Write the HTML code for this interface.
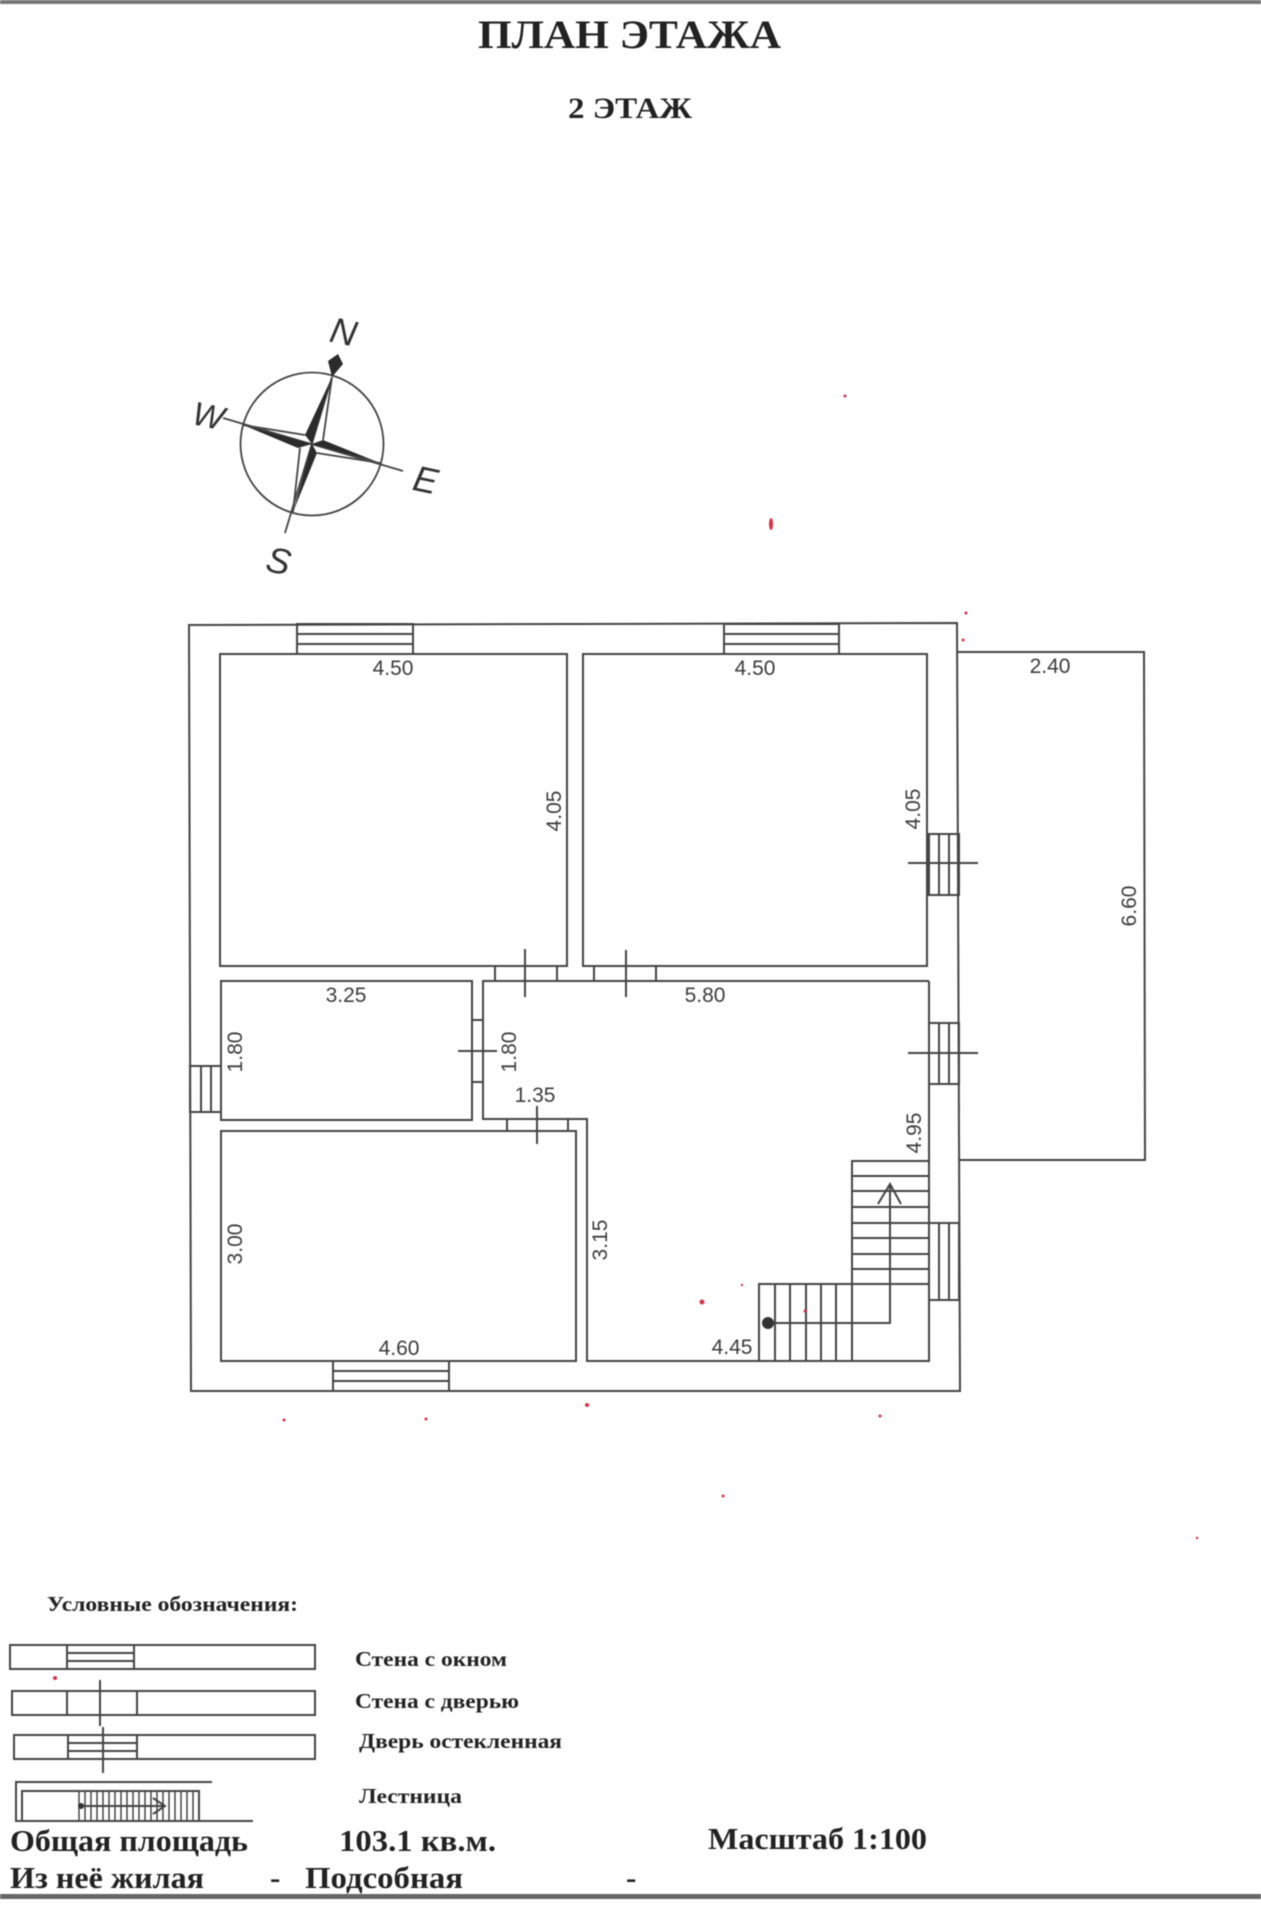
<!DOCTYPE html>
<html><head><meta charset="utf-8">
<style>
html,body{margin:0;padding:0;background:#fff;width:1261px;height:1920px;overflow:hidden}
svg{display:block;filter:blur(.45px)}
.d{font:21px "Liberation Sans",sans-serif;fill:#3d3d3d;text-anchor:middle}
.t{font-family:"Liberation Serif","Noto Serif CJK SC",serif;font-weight:bold;fill:#222}
.c{font-family:"Liberation Sans",sans-serif;font-style:italic;fill:#333;text-anchor:middle}
</style></head><body>
<svg width="1261" height="1920" viewBox="0 0 1261 1920" xmlns="http://www.w3.org/2000/svg">
<rect width="1261" height="1920" fill="#fff"/>
<!-- page rules -->
<rect x="0" y="0" width="1261" height="4" fill="#777"/>
<rect x="0" y="1894" width="1261" height="5" fill="#666"/>

<!-- titles -->
<text class="t" x="478" y="48" font-size="40" textLength="303" lengthAdjust="spacingAndGlyphs">ПЛАН ЭТАЖА</text>
<text class="t" x="568" y="118" font-size="30" textLength="124" lengthAdjust="spacingAndGlyphs">2 ЭТАЖ</text>

<!-- compass -->
<g fill="none" stroke="#444" stroke-width="1.8">
<circle cx="312" cy="444" r="71.5"/>
<line x1="332" y1="377" x2="323" y2="440"/>
<line x1="332" y1="377" x2="285" y2="533"/>
<line x1="223" y1="418" x2="403" y2="471"/>
<line x1="243" y1="425" x2="305" y2="435"/>
<line x1="380" y1="463" x2="317" y2="453"/>
<line x1="293" y1="512" x2="300" y2="448"/>
</g>
<g fill="#2b2b2b">
<polygon points="328,361 338,354 343,364 332,377"/>
<polygon points="332,377 305,435 312,444"/>
<polygon points="243,425 298,448 312,444"/>
<polygon points="380,463 323,440 312,444"/>
<polygon points="293,512 317,453 312,444"/>
</g>
<text class="c" font-size="36" transform="translate(341,344) rotate(12)">N</text>
<text class="c" font-size="33" transform="translate(206,427) rotate(12)">W</text>
<text class="c" font-size="36" transform="translate(423,492) rotate(12)">E</text>
<text class="c" font-size="36" transform="translate(276,573) rotate(12)">S</text>

<!-- plan -->
<g fill="none" stroke="#444" stroke-width="2">
<!-- outer walls -->
<polygon points="189,625 957,623 960,1391 191,1391"/>
<!-- veranda -->
<polyline points="958,652 1144,652 1145,1160 959,1160"/>
<!-- rooms -->
<rect x="220" y="654" width="347" height="312"/>
<rect x="583" y="654" width="344" height="312"/>
<rect x="221" y="981" width="251" height="139"/>
<rect x="221" y="1131" width="355" height="230"/>
<polyline points="929,981 483,981 483,1119 587,1119 587,1361 929,1361 929,981"/>

<!-- top windows -->
<rect x="297" y="624" width="116" height="30"/>
<line x1="297" y1="634" x2="413" y2="634"/><line x1="297" y1="644" x2="413" y2="644"/>
<rect x="724" y="624" width="115" height="30"/>
<line x1="724" y1="634" x2="839" y2="634"/><line x1="724" y1="644" x2="839" y2="644"/>
<!-- bottom window -->
<rect x="333" y="1361" width="116" height="30"/>
<line x1="333" y1="1371" x2="449" y2="1371"/><line x1="333" y1="1381" x2="449" y2="1381"/>
<!-- left window -->
<rect x="190" y="1066" width="31" height="46"/>
<line x1="201" y1="1066" x2="201" y2="1112"/><line x1="211" y1="1066" x2="211" y2="1112"/>
<!-- right glazed doors -->
<rect x="929" y="834" width="30" height="61"/>
<line x1="939" y1="834" x2="939" y2="895"/><line x1="949" y1="834" x2="949" y2="895"/>
<line x1="908" y1="863" x2="978" y2="863"/>
<rect x="929" y="1023" width="30" height="61"/>
<line x1="939" y1="1023" x2="939" y2="1084"/><line x1="949" y1="1023" x2="949" y2="1084"/>
<line x1="908" y1="1053" x2="978" y2="1053"/>
<!-- stair-side window -->
<rect x="929" y="1223" width="30" height="77"/>
<line x1="939" y1="1223" x2="939" y2="1300"/><line x1="949" y1="1223" x2="949" y2="1300"/>

<!-- inner doors -->
<line x1="495" y1="966" x2="495" y2="981"/><line x1="557" y1="966" x2="557" y2="981"/>
<line x1="525" y1="949" x2="525" y2="997"/>
<line x1="594" y1="966" x2="594" y2="981"/><line x1="656" y1="966" x2="656" y2="981"/>
<line x1="626" y1="950" x2="626" y2="997"/>
<line x1="472" y1="1020" x2="483" y2="1020"/><line x1="472" y1="1082" x2="483" y2="1082"/>
<line x1="458" y1="1051" x2="497" y2="1051"/>
<line x1="507" y1="1120" x2="507" y2="1131"/><line x1="568" y1="1120" x2="568" y2="1131"/>
<line x1="537" y1="1106" x2="537" y2="1144"/>

<!-- stairs -->
<polyline points="929,1161 852,1161 852,1361"/>
<line x1="852" y1="1176" x2="929" y2="1176"/>
<line x1="852" y1="1191" x2="929" y2="1191"/>
<line x1="852" y1="1207" x2="929" y2="1207"/>
<line x1="852" y1="1223" x2="929" y2="1223"/>
<line x1="852" y1="1238" x2="929" y2="1238"/>
<line x1="852" y1="1254" x2="929" y2="1254"/>
<line x1="852" y1="1269" x2="929" y2="1269"/>
<polyline points="929,1284 759,1284 759,1361"/>
<line x1="775" y1="1284" x2="775" y2="1361"/>
<line x1="790" y1="1284" x2="790" y2="1361"/>
<line x1="806" y1="1284" x2="806" y2="1361"/>
<line x1="821" y1="1284" x2="821" y2="1361"/>
<line x1="836" y1="1284" x2="836" y2="1361"/>
<polyline points="768,1323 890,1323 890,1184"/>
<polyline points="878,1204 890,1184 901,1204"/>
</g>
<circle cx="768" cy="1323" r="6" fill="#333"/>

<!-- dimensions -->
<text class="d" x="393" y="675">4.50</text>
<text class="d" x="755" y="675">4.50</text>
<text class="d" transform="translate(561,811) rotate(-90)">4.05</text>
<text class="d" transform="translate(920,809) rotate(-90)">4.05</text>
<text class="d" x="1050" y="673">2.40</text>
<text class="d" transform="translate(1136,906) rotate(-90)">6.60</text>
<text class="d" x="346" y="1002">3.25</text>
<text class="d" x="705" y="1002">5.80</text>
<text class="d" transform="translate(242,1052) rotate(-90)">1.80</text>
<text class="d" transform="translate(516,1052) rotate(-90)">1.80</text>
<text class="d" x="535" y="1102">1.35</text>
<text class="d" transform="translate(921,1133) rotate(-90)">4.95</text>
<text class="d" transform="translate(242,1244) rotate(-90)">3.00</text>
<text class="d" transform="translate(607,1240) rotate(-90)">3.15</text>
<text class="d" x="399" y="1355">4.60</text>
<text class="d" x="732" y="1354">4.45</text>

<!-- legend -->
<g fill="none" stroke="#444" stroke-width="2">
<rect x="10" y="1645" width="305" height="24"/>
<rect x="67" y="1645" width="67" height="24"/>
<line x1="67" y1="1653" x2="134" y2="1653"/><line x1="67" y1="1661" x2="134" y2="1661"/>
<rect x="12" y="1691" width="303" height="24"/>
<line x1="67" y1="1691" x2="67" y2="1715"/><line x1="137" y1="1691" x2="137" y2="1715"/>
<line x1="100" y1="1680" x2="100" y2="1726"/>
<rect x="14" y="1735" width="301" height="24"/>
<rect x="68" y="1735" width="69" height="24"/>
<line x1="68" y1="1743" x2="137" y2="1743"/><line x1="68" y1="1751" x2="137" y2="1751"/>
<line x1="103" y1="1727" x2="103" y2="1773"/>
<!-- legend stair -->
<polyline points="212,1782 16,1782 16,1821 253,1821"/>
<polyline points="22,1821 22,1791 199,1791 199,1821"/>
<g stroke-width="1.5">
<path d="M79 1791V1820M85 1791V1820M91 1791V1820M97 1791V1820M103 1791V1820M109 1791V1820M115 1791V1820M121 1791V1820M127 1791V1820M133 1791V1820M139 1791V1820M145 1791V1820M151 1791V1820M157 1791V1820M163 1791V1820M169 1791V1820M175 1791V1820M181 1791V1820M187 1791V1820M193 1791V1820"/>
</g>
<polyline points="81,1806 165,1806"/>
<polyline points="153,1798 165,1806 153,1814"/>
</g>
<circle cx="81" cy="1806" r="3" fill="#333"/>

<text class="t" x="47" y="1611" font-size="21" textLength="251" lengthAdjust="spacingAndGlyphs">Условные обозначения:</text>
<text class="t" x="355" y="1666" font-size="21" textLength="152" lengthAdjust="spacingAndGlyphs">Стена с окном</text>
<text class="t" x="355" y="1708" font-size="21" textLength="164" lengthAdjust="spacingAndGlyphs">Стена с дверью</text>
<text class="t" x="359" y="1748" font-size="21" textLength="203" lengthAdjust="spacingAndGlyphs">Дверь остекленная</text>
<text class="t" x="359" y="1803" font-size="21" textLength="103" lengthAdjust="spacingAndGlyphs">Лестница</text>

<text class="t" x="10" y="1851" font-size="31" textLength="238" lengthAdjust="spacingAndGlyphs">Общая площадь</text>
<text class="t" x="339" y="1851" font-size="31" textLength="157" lengthAdjust="spacingAndGlyphs">103.1 кв.м.</text>
<text class="t" x="708" y="1849" font-size="31" textLength="219" lengthAdjust="spacingAndGlyphs">Масштаб 1:100</text>
<text class="t" x="10" y="1888" font-size="31" textLength="194" lengthAdjust="spacingAndGlyphs">Из неё жилая</text>
<text class="t" x="270" y="1888" font-size="31">-</text>
<text class="t" x="305" y="1888" font-size="31" textLength="158" lengthAdjust="spacingAndGlyphs">Подсобная</text>
<text class="t" x="626" y="1888" font-size="31">-</text>

<!-- red specks -->
<g fill="#d8324a">
<ellipse cx="771" cy="524" rx="2" ry="6"/>
<circle cx="845" cy="396" r="1.5"/>
<circle cx="966" cy="613" r="1.5"/><circle cx="963" cy="640" r="1.5"/>
<circle cx="702" cy="1302" r="2.5"/>
<circle cx="587" cy="1405" r="2"/>
<circle cx="284" cy="1420" r="1.5"/><circle cx="426" cy="1419" r="1.5"/>
<circle cx="880" cy="1416" r="1.5"/>
<circle cx="723" cy="1496" r="1.5"/>
<circle cx="55" cy="1678" r="2"/>
<circle cx="1197" cy="1538" r="1.2"/>
<circle cx="742" cy="1285" r="1.2"/>
<circle cx="805" cy="1311" r="1.5"/>
</g>
</svg>
</body></html>
